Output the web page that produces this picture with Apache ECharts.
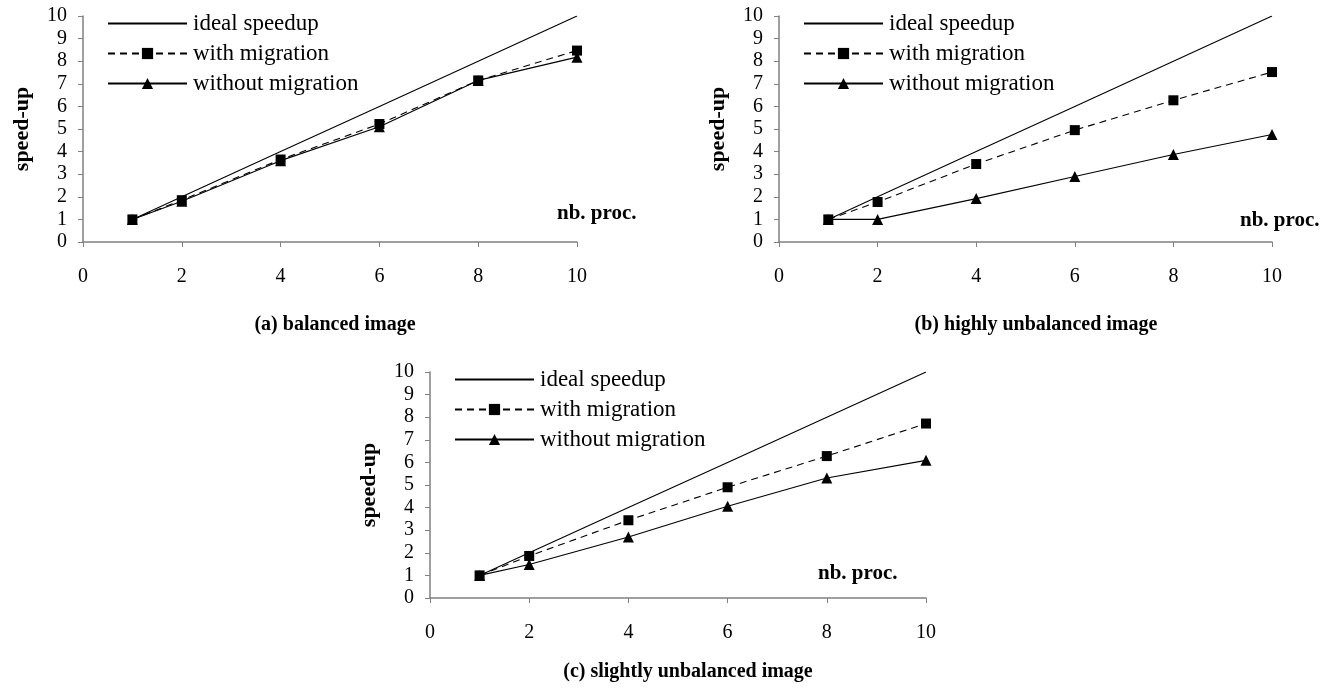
<!DOCTYPE html>
<html>
<head>
<meta charset="utf-8">
<script src="https://cdn.jsdelivr.net/npm/echarts@6/dist/echarts.min.js"></script>
<style>html,body{margin:0;padding:0;background:#fff;}#c{width:1343px;height:690px;}</style>
</head>
<body>
<div id="c"></div>
<script>
// ---- data ----
const procs = [1, 2, 4, 6, 8, 10];
const xTicks = [0, 2, 4, 6, 8, 10];
const yTicks = [0, 1, 2, 3, 4, 5, 6, 7, 8, 9, 10];
const seriesNames = ['ideal speedup', 'with migration', 'without migration'];
const panelTitles = ['(a) balanced image', '(b) highly unbalanced image', '(c) slightly unbalanced image'];
const idealA = [1, 2, 4, 6, 8, 10];
const withA = [1, 1.85, 3.65, 5.22, 7.15, 8.47];
const withoutA = [1, 1.8, 3.6, 5.1, 7.15, 8.18];
const idealB = [1, 2, 4, 6, 8, 10];
const withB = [1, 1.77, 3.45, 4.95, 6.27, 7.52];
const withoutB = [1, 1, 1.92, 2.9, 3.87, 4.76];
const idealC = [1, 2, 4, 6, 8, 10];
const withC = [1, 1.86, 3.44, 4.9, 6.28, 7.72];
const withoutC = [1, 1.48, 2.7, 4.06, 5.31, 6.09];

const FONT = '"Liberation Serif", "Times New Roman", serif';
const pair = (ys) => procs.map((x, i) => [x, ys[i]]);

const panels = [
  { grid: { left: 83, top: 16, width: 494, height: 226 }, legend: { left: 107, top: 12 }, data: [idealA, withA, withoutA], nb: [557, 203], title: [335, 315] },
  { grid: { left: 779, top: 16, width: 493, height: 226 }, legend: { left: 803, top: 12 }, data: [idealB, withB, withoutB], nb: [1240, 210], title: [1036, 315] },
  { grid: { left: 430, top: 372, width: 496, height: 226 }, legend: { left: 454, top: 368 }, data: [idealC, withC, withoutC], nb: [818, 563], title: [688, 662] }
];

const grids = [], xAxes = [], yAxes = [], series = [], legends = [], graphics = [];
panels.forEach((p, k) => {
  grids.push(p.grid);
  xAxes.push({
    type: 'value', gridIndex: k, min: xTicks[0], max: xTicks[xTicks.length - 1], interval: 2,
    axisLine: { lineStyle: { color: '#808080', width: 1.5 } },
    axisTick: { show: true, inside: false, length: 5, lineStyle: { color: '#808080' } },
    splitLine: { show: false },
    axisLabel: { margin: 25, fontFamily: FONT, fontSize: 20, color: '#000' }
  });
  yAxes.push({
    type: 'value', gridIndex: k, min: yTicks[0], max: yTicks[yTicks.length - 1], interval: 1,
    axisLine: { show: true, lineStyle: { color: '#808080', width: 1.5 } },
    axisTick: { show: true, inside: false, length: 5, lineStyle: { color: '#808080' } },
    splitLine: { show: false },
    axisLabel: { margin: 16, fontFamily: FONT, fontSize: 20, color: '#000' },
    name: 'speed-up', nameLocation: 'middle', nameRotate: 90, nameGap: 50,
    nameTextStyle: { fontFamily: FONT, fontSize: 22, fontWeight: 'bold', color: '#000' }
  });
  series.push({
    name: seriesNames[0], type: 'line', xAxisIndex: k, yAxisIndex: k, data: pair(p.data[0]),
    symbol: 'none', lineStyle: { color: '#000', width: 1.1, type: 'solid' }, itemStyle: { color: '#000' }, z: 2
  });
  series.push({
    name: seriesNames[1], type: 'line', xAxisIndex: k, yAxisIndex: k, data: pair(p.data[1]),
    symbol: 'rect', symbolSize: 10, lineStyle: { color: '#000', width: 1.1, type: [7, 5] }, itemStyle: { color: '#000' }, z: 4
  });
  series.push({
    name: seriesNames[2], type: 'line', xAxisIndex: k, yAxisIndex: k, data: pair(p.data[2]),
    symbol: 'triangle', symbolSize: 11, lineStyle: { color: '#000', width: 1.1, type: 'solid' }, itemStyle: { color: '#000' }, z: 3
  });
  legends.push({
    left: p.legend.left, top: p.legend.top, orient: 'vertical', padding: 0,
    data: [
      { name: seriesNames[0], itemStyle: { opacity: 0 } },
      { name: seriesNames[1] },
      { name: seriesNames[2] }
    ],
    itemWidth: 79, itemHeight: 14, itemGap: 7, selectedMode: false,
    textStyle: { fontFamily: FONT, fontSize: 23, color: '#000', padding: [0, 0, 0, 1] }
  });
  graphics.push({
    type: 'text', left: p.nb[0], top: p.nb[1],
    style: { text: 'nb. proc.', font: 'bold 21px ' + FONT, fill: '#000' }
  });
  graphics.push({
    type: 'text', x: p.title[0], y: p.title[1],
    style: { text: panelTitles[k], font: 'bold 20px ' + FONT, fill: '#000', align: 'center' }
  });
});

const chart = echarts.init(document.getElementById('c'), null, { renderer: 'canvas' });
chart.setOption({
  animation: false,
  backgroundColor: '#fff',
  grid: grids, xAxis: xAxes, yAxis: yAxes, series: series, legend: legends, graphic: graphics
});
</script>
</body>
</html>
